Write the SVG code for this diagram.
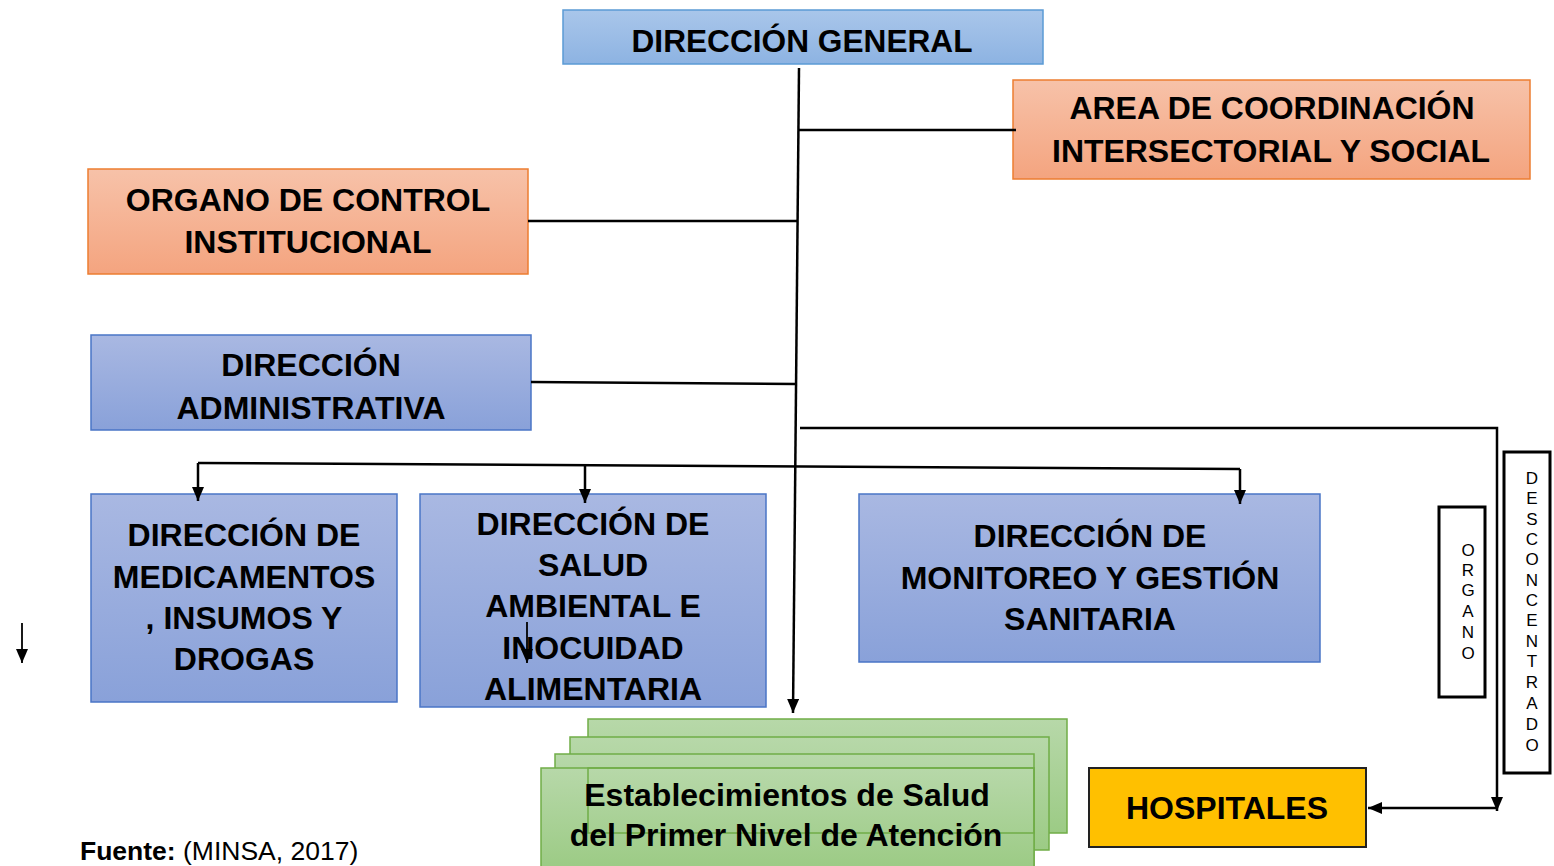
<svg xmlns="http://www.w3.org/2000/svg" width="1554" height="866" viewBox="0 0 1554 866">
<defs>
<linearGradient id="gBlue" x1="0" y1="0" x2="0" y2="1"><stop offset="0" stop-color="#a9b8e2"/><stop offset="1" stop-color="#89a1d9"/></linearGradient>
<linearGradient id="gLight" x1="0" y1="0" x2="0" y2="1"><stop offset="0" stop-color="#a9c6ea"/><stop offset="1" stop-color="#8db3e2"/></linearGradient>
<linearGradient id="gOrange" x1="0" y1="0" x2="0" y2="1"><stop offset="0" stop-color="#f7c2a9"/><stop offset="1" stop-color="#f4a47f"/></linearGradient>
<linearGradient id="gGreen" x1="0" y1="0" x2="0" y2="1"><stop offset="0" stop-color="#b7d8a9"/><stop offset="1" stop-color="#9ccb85"/></linearGradient>
<marker id="arr" markerUnits="userSpaceOnUse" markerWidth="14" markerHeight="12" refX="14" refY="6" orient="auto"><path d="M0,0 L14,6 L0,12 z" fill="#000"/></marker>
</defs>
<style>
.t{font-family:"Liberation Sans",Arial,sans-serif;font-weight:bold;font-size:32px;fill:#000;text-anchor:middle}
.v{font-family:"Liberation Sans",Arial,sans-serif;font-size:17px;fill:#000;text-anchor:middle}
.blue{fill:url(#gBlue);stroke:#4a75c6;stroke-width:1.5}
.light{fill:url(#gLight);stroke:#5b9bd5;stroke-width:1.5}
.orange{fill:url(#gOrange);stroke:#ed7d31;stroke-width:1.5}
.green{fill:url(#gGreen);stroke:#70ad47;stroke-width:1.5}
.box{fill:none;stroke:#000;stroke-width:3}
.c{fill:none;stroke:#000;stroke-width:2.5}
.s{fill:none;stroke:#000;stroke-width:1.8}
</style>
<rect width="1554" height="866" fill="#fff"/>

<g id="n-direccion-general">
<rect class="light" x="563" y="10" width="480" height="54"/>
<text class="t" x="802" y="52" textLength="341" lengthAdjust="spacingAndGlyphs">DIRECCIÓN GENERAL</text>
</g>
<g id="n-area-coordinacion">
<rect class="orange" x="1013" y="80" width="517" height="99"/>
<text class="t" x="1272" y="119" textLength="405" lengthAdjust="spacingAndGlyphs">AREA DE COORDINACIÓN</text>
<text class="t" x="1271" y="162" textLength="438" lengthAdjust="spacingAndGlyphs">INTERSECTORIAL Y SOCIAL</text>
</g>
<g id="n-organo-control">
<rect class="orange" x="88" y="169" width="440" height="105"/>
<text class="t" x="308" y="211">ORGANO DE CONTROL</text>
<text class="t" x="308" y="253">INSTITUCIONAL</text>
</g>
<g id="n-direccion-administrativa">
<rect class="blue" x="91" y="335" width="440" height="95"/>
<text class="t" x="311" y="376">DIRECCIÓN</text>
<text class="t" x="311" y="419">ADMINISTRATIVA</text>
</g>
<g id="n-medicamentos">
<rect class="blue" x="91" y="494" width="306" height="208"/>
<text class="t" x="244" y="546">DIRECCIÓN DE</text>
<text class="t" x="244" y="588">MEDICAMENTOS</text>
<text class="t" x="244" y="629">, INSUMOS Y</text>
<text class="t" x="244" y="670">DROGAS</text>
</g>
<g id="n-salud-ambiental">
<rect class="blue" x="420" y="494" width="346" height="213"/>
<text class="t" x="593" y="535">DIRECCIÓN DE</text>
<text class="t" x="593" y="576">SALUD</text>
<text class="t" x="593" y="617">AMBIENTAL E</text>
<text class="t" x="593" y="659">INOCUIDAD</text>
<text class="t" x="593" y="700">ALIMENTARIA</text>
</g>
<g id="n-monitoreo">
<rect class="blue" x="859" y="494" width="461" height="168"/>
<text class="t" x="1090" y="547">DIRECCIÓN DE</text>
<text class="t" x="1090" y="589">MONITOREO Y GESTIÓN</text>
<text class="t" x="1090" y="630">SANITARIA</text>
</g>
<g id="n-establecimientos">
<rect class="green" x="588" y="719" width="479" height="114"/>
<rect class="green" x="570" y="737" width="479" height="113"/>
<rect class="green" x="555" y="754" width="479" height="112"/>
<rect class="green" x="541" y="768" width="493" height="100"/>
<rect x="588" y="768" width="446" height="65" fill="none" stroke="#70ad47" stroke-width="1.5"/>
<text class="t" x="787" y="806">Establecimientos de Salud</text>
<text class="t" x="786" y="846">del Primer Nivel de Atención</text>
</g>
<g id="n-hospitales">
<rect x="1089" y="768" width="277" height="79" fill="#ffc000" stroke="#222" stroke-width="2"/>
<text class="t" x="1227" y="819">HOSPITALES</text>
</g>
<g id="n-organo">
<rect class="box" x="1439" y="507" width="46" height="190"/>
<text class="v" x="1468" y="556">O</text>
<text class="v" x="1468" y="576">R</text>
<text class="v" x="1468" y="596">G</text>
<text class="v" x="1468" y="617">A</text>
<text class="v" x="1468" y="638">N</text>
<text class="v" x="1468" y="659">O</text>
</g>
<g id="n-desconcentrado">
<rect class="box" x="1504" y="452" width="46" height="321"/>
<text class="v" x="1532" y="484">D</text>
<text class="v" x="1532" y="504">E</text>
<text class="v" x="1532" y="525">S</text>
<text class="v" x="1532" y="545">C</text>
<text class="v" x="1532" y="565">O</text>
<text class="v" x="1532" y="586">N</text>
<text class="v" x="1532" y="606">C</text>
<text class="v" x="1532" y="626">E</text>
<text class="v" x="1532" y="647">N</text>
<text class="v" x="1532" y="667">T</text>
<text class="v" x="1532" y="688">R</text>
<text class="v" x="1532" y="709">A</text>
<text class="v" x="1532" y="730">D</text>
<text class="v" x="1532" y="751">O</text>
</g>

<g id="connectors">
<path class="c" d="M799,68 L793,713" marker-end="url(#arr)"/>
<path class="c" d="M799,130 H1016"/>
<path class="c" d="M528,221 H797"/>
<path class="c" d="M531,382 L796,384"/>
<path class="c" d="M800,428 H1497 V811" marker-end="url(#arr)"/>
<path class="c" d="M1497,808 H1368" marker-end="url(#arr)"/>
<path class="c" d="M198,463 L1240,469"/>
<path class="c" d="M198,463 V501" marker-end="url(#arr)"/>
<path class="c" d="M585,465 V503" marker-end="url(#arr)"/>
<path class="c" d="M1240,469 V504" marker-end="url(#arr)"/>
<path class="s" d="M22,623 V663" marker-end="url(#arr)"/>
<path class="s" d="M527,622 V663" marker-end="url(#arr)"/>
</g>

<text x="80" y="860" font-family="Liberation Sans, Arial, sans-serif" font-size="26.5" fill="#000"><tspan font-weight="bold">Fuente:</tspan> (MINSA, 2017)</text>
</svg>
